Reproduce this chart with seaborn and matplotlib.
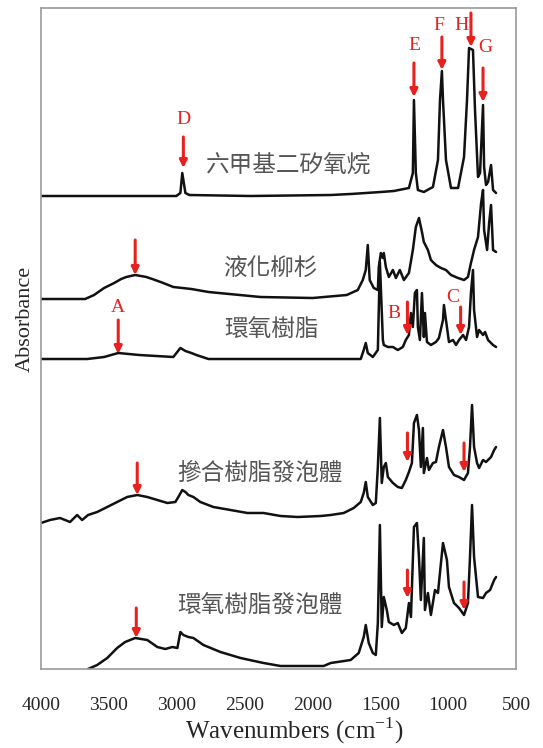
import numpy as np
import pandas as pd
import matplotlib
matplotlib.use("Agg")
import matplotlib.pyplot as plt
import seaborn as sns

# ---------------- data (wavenumber cm-1, relative absorbance) ----------------
names = ["六甲基二矽氧烷", "液化柳杉", "環氧樹脂", "摻合樹脂發泡體", "環氧樹脂發泡體"]
offsets = [473, 370, 310, 146, 0]

wn_hmdso = [4000, 3500, 3003, 2973, 2959, 2936, 2907, 2456, 1865, 1718, 1607, 1496, 1400, 1289,
            1260, 1252, 1238, 1223, 1179, 1112, 1075, 1060, 1046, 1038, 1016, 979, 927, 883, 861,
            846, 817, 802, 780, 765, 743, 735, 721, 706, 684, 669, 647]
ab_hmdso = [0, 0, 0, 3, 23, 3, 1, 0, 1, 2, 3, 4, 5, 8,
            23, 96, 23, 6, 4, 9, 36, 96, 125, 96, 36, 8, 8, 39, 96,
            148, 146, 86, 19, 23, 91, 29, 11, 14, 31, 6, 3]

wn_cedar = [4000, 3675, 3609, 3535, 3461, 3409, 3372, 3306, 3224, 3180, 3099, 3025, 2892, 2766,
            2382, 1998, 1747, 1666, 1629, 1607,
            1592, 1578, 1548, 1518, 1511, 1496, 1481, 1474, 1459, 1437, 1407, 1385, 1356, 1326,
            1289, 1260, 1238, 1215, 1193, 1179, 1149, 1127, 1090, 1053, 1016, 979, 927, 883, 854,
            832, 809, 780, 757, 743, 735, 713, 698, 684, 669, 647]
ab_cedar = [0, 0, 4, 11, 16, 20, 22, 24, 22, 20, 16, 12, 10, 7,
            2, 1, 4, 9, 19, 29,
            54, 19, 11, 9, 32, 46, 41, 46, 32, 22, 29, 21, 29, 19,
            26, 49, 72, 81, 67, 57, 49, 39, 34, 31, 29, 24, 21, 19, 22,
            36, 49, 62, 96, 109, 69, 49, 76, 94, 49, 47]

wn_epoxy = [4000, 3660, 3535, 3431, 3276, 3025, 2973, 2936, 2892, 2855, 2766, 1644, 1622, 1607,
            1592, 1555, 1518, 1503, 1481, 1474, 1444, 1407, 1371, 1334, 1312, 1289, 1274, 1260,
            1245, 1230, 1223, 1208, 1193, 1179, 1171, 1156, 1127, 1090, 1068, 1038, 1031, 1009,
            994, 964, 942, 920, 890, 868, 846, 832, 817, 809, 787, 772, 743, 728, 706, 669, 647]
ab_epoxy = [0, 0, 2, 6, 4, 2, 11, 8, 6, 4, 0, 0, 9, 16,
            6, 2, 9, 97, 19, 14, 12, 12, 9, 12, 19, 24, 46, 32,
            66, 69, 32, 19, 66, 22, 46, 17, 14, 17, 21, 39, 54, 32,
            17, 19, 14, 19, 24, 19, 32, 66, 89, 49, 22, 29, 24, 27, 19, 14, 12]

wn_blend = [4000, 3934, 3860, 3786, 3734, 3697, 3653, 3586, 3512, 3439, 3365, 3291, 3217, 3143,
            3069, 3010, 2988, 2959, 2936, 2914, 2877, 2826, 2730, 2604, 2479, 2360, 2235, 2109,
            1939, 1865, 1769, 1696, 1644, 1622, 1607, 1592, 1555, 1533, 1518, 1503, 1489, 1474,
            1459, 1444, 1407, 1371, 1341, 1312, 1289, 1267, 1252, 1230, 1215, 1201, 1186, 1179,
            1156, 1142, 1112, 1090, 1068, 1038, 1016, 994, 957, 920, 883, 854, 839, 824, 809,
            787, 772, 743, 721, 684, 661, 647]
ab_blend = [0, 3, 5, 1, 8, 3, 8, 11, 16, 21, 26, 28, 26, 23,
            20, 21, 26, 33, 31, 28, 26, 21, 16, 13, 10, 10, 7, 6,
            7, 8, 10, 15, 21, 30, 41, 26, 18, 20, 56, 105, 40, 56,
            60, 46, 40, 36, 35, 43, 51, 60, 100, 108, 93, 56, 95, 50,
            65, 53, 60, 61, 76, 93, 76, 56, 48, 46, 43, 50, 76, 118, 76,
            60, 55, 63, 61, 66, 73, 76]

wn_foam = [3653, 3586, 3512, 3439, 3380, 3306, 3217, 3143, 3084, 3032, 2995, 2973, 2951, 2914,
           2877, 2803, 2678, 2530, 2360, 2235, 2065, 1917, 1865, 1718, 1659, 1622, 1607, 1585,
           1555, 1533, 1518, 1503, 1489, 1474, 1452, 1437, 1400, 1371, 1341, 1312, 1289, 1274,
           1252, 1230, 1215, 1201, 1179, 1171, 1149, 1127, 1097, 1075, 1053, 1038, 1009, 994,
           957, 920, 883, 854, 839, 824, 809, 780, 743, 721, 691, 661, 647]
ab_foam = [0, 4, 11, 21, 27, 31, 29, 22, 20, 22, 21, 37, 34, 32,
           31, 24, 17, 11, 6, 3, 3, 3, 6, 9, 16, 32, 44, 26,
           16, 14, 46, 144, 42, 72, 59, 47, 44, 46, 36, 41, 66, 52,
           142, 146, 112, 69, 131, 59, 76, 54, 79, 76, 106, 126, 109, 82,
           66, 61, 54, 66, 112, 164, 112, 72, 71, 76, 79, 89, 92]

xticks = [4000, 3500, 3000, 2500, 2000, 1500, 1000, 500]

# --------------------------------------------------------------------------
sns.set_style("white")
plt.rcParams['font.family'] = ['Liberation Serif', 'DejaVu Serif']

fig = plt.figure(figsize=(5.43, 7.48), dpi=100)
ax = fig.add_axes([41/543, 79/748, 475/543, 661/748])

series = [(wn_hmdso, ab_hmdso), (wn_cedar, ab_cedar), (wn_epoxy, ab_epoxy),
          (wn_blend, ab_blend), (wn_foam, ab_foam)]
frames = []
for name, off, (w, a) in zip(names, offsets, series):
    frames.append(pd.DataFrame({"wn": w, "abs": np.array(a) + off, "sample": name}))
df = pd.concat(frames, ignore_index=True)

for name in names:
    sub = df[df["sample"] == name]
    sns.lineplot(data=sub, x="wn", y="abs", ax=ax, color="#111111", lw=1.8,
                 sort=False, estimator=None, legend=False,
                 solid_joinstyle='round', solid_capstyle='round')

ax.set_xlim(4000, 500)
ax.set_ylim(0, 661)
ax.set_xticks(xticks)
ax.set_xticklabels([str(t) for t in xticks], fontsize=14)
ax.set_yticks([])
ax.tick_params(axis='x', direction='in', length=5, color='#8c8c8c', pad=20)
for s in ax.spines.values():
    s.set_color('#9a9a9a')
    s.set_linewidth(1.2)

ax.set_xlabel("Wavenumbers (cm$^{\\mathregular{-1}}$)", fontsize=18)
ax.xaxis.set_label_coords(0.534, -0.093)
ax.xaxis.label.set_va('center')
ax.set_ylabel("Absorbance", fontsize=16)
ax.yaxis.set_label_coords(-0.034, 0.53)
ax.yaxis.label.set_va('center')

# Chinese sample labels
cjk = ['Noto Sans CJK TC', 'DejaVu Sans']
label_pos = [(2178, 504), (2304, 401), (2304, 339), (2385, 196), (2385, 64)]
for name, (x, y) in zip(names, label_pos):
    ax.text(x, y, name, family=cjk, fontsize=17, color='#555555', ha='center', va='center')

# red arrows
red = '#e8211f'
arrows = [(2951, 532, 501), (1252, 606, 572), (1046, 632, 599), (832, 656, 622), (743, 601, 567),
          (3306, 429, 394), (3431, 349, 315), (1300, 367, 334), (908, 362, 334),
          (3291, 206, 174), (1300, 236, 207), (883, 226, 197),
          (3298, 61, 31), (1300, 99, 71), (883, 87, 59)]
for x, y0, y1 in arrows:
    ax.annotate('', xy=(x, y1), xytext=(x, y0),
                arrowprops=dict(arrowstyle='-|>', color=red, lw=2.2,
                                mutation_scale=11, shrinkA=0, shrinkB=0))

letters = [("D", 2951, 549), ("E", 1252, 624), ("F", 1068, 644), ("H", 901, 644),
           ("G", 728, 621), ("A", 3431, 362), ("B", 1400, 356), ("C", 967, 372)]
for t, x, y in letters:
    ax.text(x, y, t, color=red, fontsize=14, ha='center', va='center')

fig.savefig("out.png", dpi=100)
